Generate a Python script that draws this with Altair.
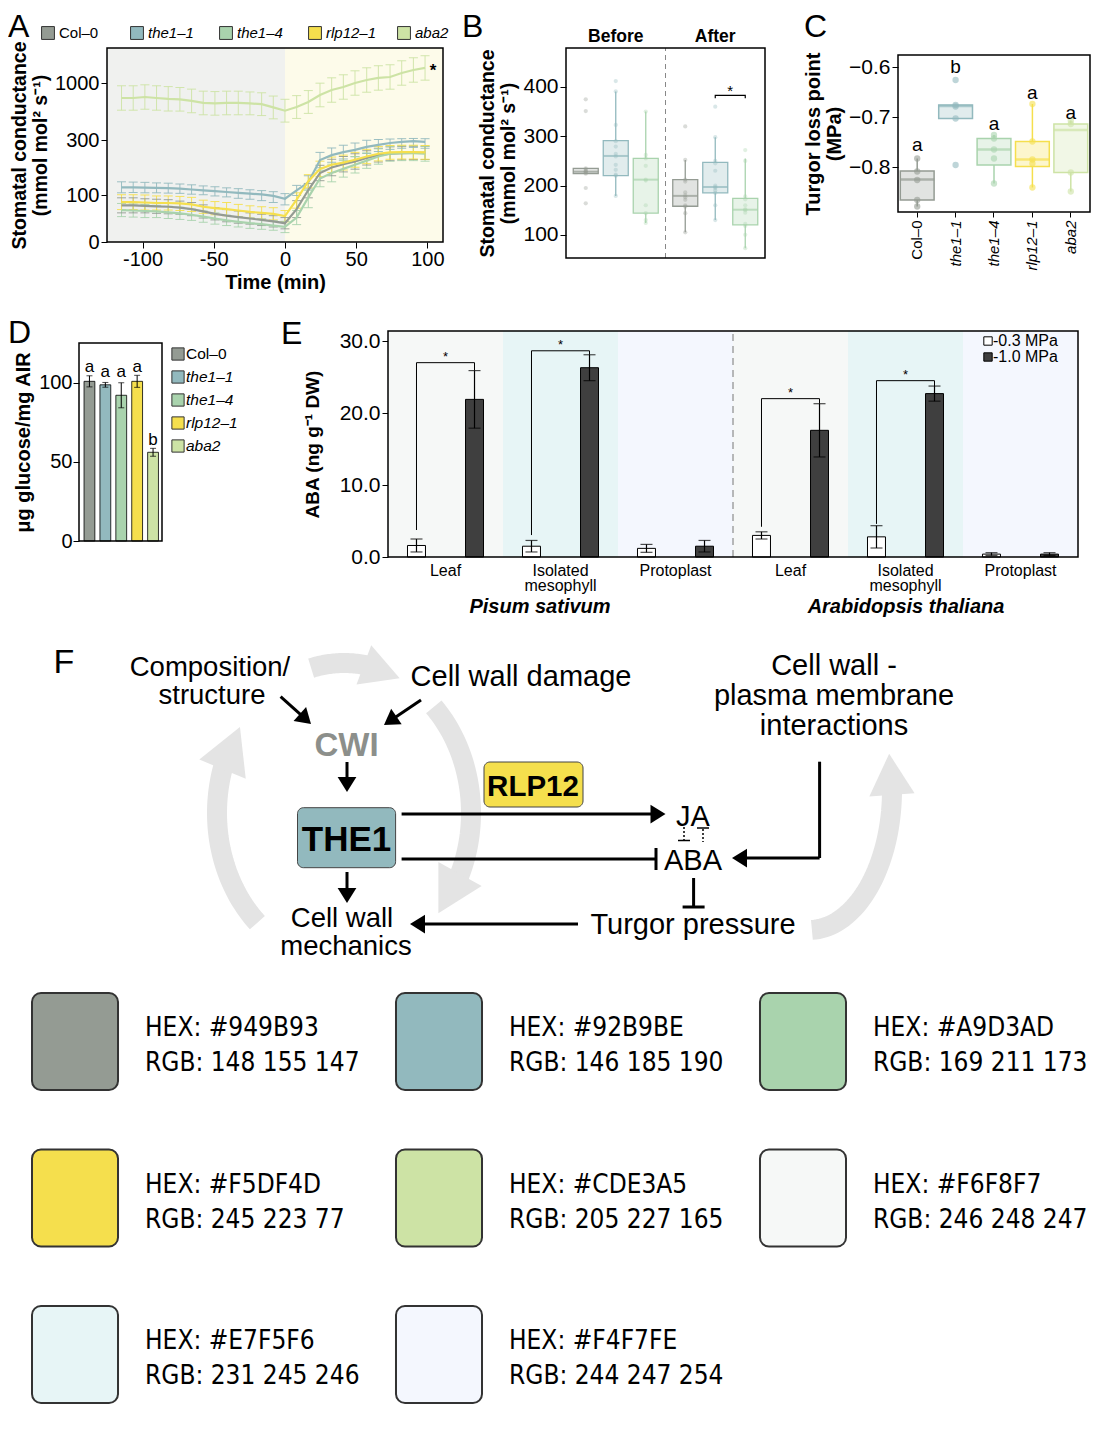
import math
import altair as alt
import pandas as pd

# ---------------- page geometry (reference pixel -> chart pixel) ----------------
OX, OY = 8, 8
W, H = 1083, 1410
def px(v): return v - OX
def py(v): return v - OY

FONT = "Liberation Sans"
PAL_FONT = "DejaVu Sans Condensed, DejaVu Sans"
AX = dict(grid=False, domain=False, tickColor="black", labelColor="black", titleColor="black",
          labelFont=FONT, titleFont=FONT)

# ---------------- genotypes ----------------
genotypes = ["Col-0", "the1-1", "the1-4", "rlp12-1", "aba2"]
geno_labels = ["Col–0", "the1–1", "the1–4", "rlp12–1", "aba2"]
geno_colors = ["#949B93", "#92B9BE", "#A9D3AD", "#F5DF4D", "#CDE3A5"]
COLOR = dict(zip(genotypes, geno_colors))

# ---------------- Panel A data ----------------
a_times = [-114.8, -106.6, -98.4, -90.2, -82.0, -73.8, -65.6, -57.4, -49.2, -41.0, -32.8, -24.6, -16.4, -8.2, 0.0,
           8.2, 16.4, 24.6, 32.8, 41.0, 49.2, 57.4, 65.6, 73.8, 82.0, 90.2, 98.4]
a_col0 = [78, 78, 77, 76, 75, 73, 70, 65, 60, 56, 53, 50, 47, 44, 40, 70, 118, 180, 200, 212, 222, 235, 245, 250, 252, 253, 253]
a_the1_1 = [128, 128, 127, 126, 125, 123, 120, 117, 114, 111, 108, 105, 102, 98, 92, 117, 146, 227, 245, 256, 264, 275, 282, 289, 293, 296, 293]
a_the1_4 = [68, 67, 66, 65, 63, 61, 58, 54, 50, 46, 43, 40, 38, 35, 32, 52, 95, 160, 180, 195, 210, 225, 240, 250, 252, 252, 250]
a_rlp12 = [85, 85, 84, 83, 83, 82, 80, 75, 72, 70, 67, 64, 62, 60, 55, 90, 150, 195, 210, 218, 228, 240, 250, 255, 256, 256, 255]
a_aba2 = [816, 816, 828, 816, 806, 800, 780, 755, 750, 755, 755, 750, 740, 700, 660, 705, 767, 853, 914, 951, 1000, 1037, 1062, 1074, 1123, 1160, 1185]
a_col0_se = [16, 16, 15, 15, 15, 14, 14, 14, 13, 13, 13, 12, 12, 12, 12, 18, 24, 28, 30, 28, 28, 26, 25, 25, 24, 24, 24]
a_the1_1_se = [20, 19, 19, 18, 18, 17, 17, 16, 16, 15, 15, 14, 14, 14, 13, 18, 24, 28, 26, 25, 25, 24, 24, 23, 23, 23, 23]
a_the1_4_se = [14, 14, 14, 13, 13, 13, 12, 12, 12, 11, 11, 11, 11, 10, 12, 15, 22, 30, 32, 30, 30, 28, 28, 27, 27, 27, 27]
a_rlp12_se = [16, 16, 16, 15, 15, 15, 15, 14, 14, 14, 13, 13, 13, 13, 12, 18, 24, 28, 28, 27, 27, 26, 26, 25, 25, 25, 25]
a_aba2_se = [150, 150, 150, 150, 150, 145, 145, 145, 145, 145, 145, 140, 140, 140, 140, 140, 140, 145, 150, 150, 150, 150, 150, 150, 150, 150, 150]

# ---------------- Panel B data ----------------
b_phases = ["Before", "After"]
b_genos = ["Col-0", "the1-1", "the1-4"]
b_group_phase = ["Before", "Before", "Before", "After", "After", "After"]
b_group_geno = ["Col-0", "the1-1", "the1-4", "Col-0", "the1-1", "the1-4"]
b_lo = [224, 179, 124, 105, 130, 73]
b_q1 = [224, 220, 144, 158, 185, 120]
b_med = [228, 260, 212, 179, 197, 151]
b_q3 = [235, 291, 255, 212, 247, 174]
b_hi = [236, 391, 350, 252, 298, 255]
b_pts = [[375, 351, 235, 232, 229, 228, 226, 224, 195, 164],
         [412, 391, 323, 290, 279, 264, 259, 242, 232, 222, 220, 179],
         [350, 262, 255, 240, 212, 210, 160, 144, 130, 124],
         [320, 252, 212, 208, 186, 180, 176, 171, 160, 157, 144, 105],
         [360, 298, 250, 245, 230, 200, 197, 195, 190, 185, 160, 130],
         [272, 250, 178, 172, 160, 152, 150, 145, 122, 118, 100, 73]]
b_bracket_y = [377, 383, 383, 377]
b_star_y = 392

# ---------------- Panel C data ----------------
c_lo = [-0.879, -0.703, -0.833, -0.841, -0.849]
c_q1 = [-0.866, -0.703, -0.796, -0.799, -0.811]
c_med = [-0.825, -0.678, -0.765, -0.785, -0.726]
c_q3 = [-0.808, -0.676, -0.743, -0.749, -0.714]
c_hi = [-0.783, -0.676, -0.736, -0.674, -0.707]
c_pts = [[-0.783, -0.809, -0.826, -0.866, -0.879],
         [-0.626, -0.676, -0.679, -0.703, -0.796],
         [-0.736, -0.743, -0.765, -0.783, -0.833],
         [-0.674, -0.749, -0.785, -0.793, -0.841],
         [-0.707, -0.714, -0.811, -0.849]]
c_letters = ["a", "b", "a", "a", "a"]
c_letter_y = [-0.756, -0.600, -0.713, -0.651, -0.691]

# ---------------- Panel D data ----------------
d_mean = [100.8, 98.6, 92.0, 100.8, 56.0]
d_err = [3.5, 1.5, 7.9, 3.8, 2.5]
d_letters = ["a", "a", "a", "a", "b"]
d_letter_y = [110, 107, 107, 110, 64]

# ---------------- Panel E data ----------------
e_species = ["Pisum sativum"] * 3 + ["Arabidopsis thaliana"] * 3
e_tissue = ["Leaf", "Isolated mesophyll", "Protoplast"] * 2
e_bg = ["#F6F8F7", "#E7F5F6", "#F4F7FE"] * 2
pressures = ["-0.3 MPa", "-1.0 MPa"]
pressure_fill = ["#FFFFFF", "#3F3F3F"]
e_low_mean = [1.6, 1.5, 1.2, 3.0, 2.8, 0.4]
e_low_err = [0.9, 0.8, 0.55, 0.5, 1.55, 0.2]
e_high_mean = [21.9, 26.3, 1.5, 17.6, 22.7, 0.4]
e_high_err = [4.0, 1.8, 0.8, 3.7, 1.05, 0.2]
e_sig_index = [0, 1, 3, 4]
e_br_left = [3.75, 3.05, 4.2, 4.6]
e_br_top = [27.0, 28.65, 22.0, 24.5]

# ---------------- palette ----------------
palette_hex = ["#949B93", "#92B9BE", "#A9D3AD", "#F5DF4D", "#CDE3A5", "#F6F8F7", "#E7F5F6", "#F4F7FE"]
palette_rgb = ["148 155 147", "146 185 190", "169 211 173", "245 223  77", "205 227 165",
               "246 248 247", "231 245 246", "244 247 254"]

layers = []
NONE_C = alt.Color("col:N", scale=None)

def X(f, s, **k): return alt.X(f, scale=s, axis=None, **k)
def Y(f, s, **k): return alt.Y(f, scale=s, axis=None, **k)
def XP(f): return alt.X(f, scale=None, axis=None)
def YP(f): return alt.Y(f, scale=None, axis=None)

# =============================== PANEL A ===============================
rows = []
for g, means, ses in zip(genotypes, [a_col0, a_the1_1, a_the1_4, a_rlp12, a_aba2],
                         [a_col0_se, a_the1_1_se, a_the1_4_se, a_rlp12_se, a_aba2_se]):
    for t, m, s in zip(a_times, means, ses):
        rows.append(dict(geno=g, col=COLOR[g], t=t, m=m, lo=m - s, hi=m + s))
dA = pd.DataFrame(rows)
sxA = alt.Scale(domain=[-125, 111], range=[px(107), px(443)], nice=False, zero=False)
syA = alt.Scale(domain=[0, 100, 300, 1430], range=[py(242), py(195), py(140), py(48)], nice=False, zero=False)
bgA = pd.DataFrame({"x0": [-125, 0], "x1": [0, 111], "y0": [0, 0], "y1": [1430, 1430], "col": ["#F0F1EF", "#FDFBEA"]})
layers.append(alt.Chart(bgA).mark_rect().encode(
    x=alt.X("x0:Q", scale=sxA, axis=alt.Axis(orient="bottom", offset=py(242) - H, values=[-100, -50, 0, 50, 100],
            labelExpr="replace(format(datum.value, 'd'), '−', '-')", title="Time (min)", labelFontSize=20,
            titleFontSize=20, titleFontWeight="bold", tickSize=6, labelPadding=1, titlePadding=3,
            labelFlush=False, **AX)),
    x2="x1:Q",
    y=alt.Y("y0:Q", scale=syA, axis=alt.Axis(orient="left", offset=-px(107), values=[0, 100, 300, 1000], format="d",
            title=["Stomatal conductance", "(mmol mol² s⁻¹)"], labelFontSize=20, titleFontSize=19.5,
            titleFontWeight="bold", tickSize=6, labelPadding=2, titlePadding=4, titleLineHeight=21, **AX)),
    y2="y1:Q", color=NONE_C))
layers.append(alt.Chart(dA).mark_rule(strokeWidth=1, opacity=0.9).encode(
    x=X("t:Q", sxA), y=Y("lo:Q", syA), y2="hi:Q", color=NONE_C))
for f in ["lo", "hi"]:
    layers.append(alt.Chart(dA).mark_tick(orient="horizontal", size=9, thickness=1, opacity=0.9).encode(
        x=X("t:Q", sxA), y=Y(f + ":Q", syA), color=NONE_C))
layers.append(alt.Chart(dA).mark_line(strokeWidth=2.2).encode(
    x=X("t:Q", sxA), y=Y("m:Q", syA), color=NONE_C, detail="geno:N"))
layers.append(alt.Chart(pd.DataFrame({"t": [104], "v": [1185], "s": ["*"]})).mark_text(
    fontSize=17, fontWeight="bold", baseline="middle", dy=3).encode(x=X("t:Q", sxA), y=Y("v:Q", syA), text="s:N"))
# legend A
legA = pd.DataFrame({"geno": genotypes, "label": geno_labels, "col": geno_colors})
sLegA = alt.Scale(type="point", domain=genotypes, range=[px(48), px(404)], padding=0)
layers.append(alt.Chart(legA).mark_square(size=165, stroke="#333333", strokeWidth=1, opacity=1).encode(
    x=X("geno:N", sLegA), y=alt.value(py(33)), color=NONE_C))
layers.append(alt.Chart(legA).transform_filter("datum.geno == 'Col-0'").mark_text(
    align="left", baseline="middle", dx=11, fontSize=15).encode(x=X("geno:N", sLegA), y=alt.value(py(33)), text="label:N"))
layers.append(alt.Chart(legA).transform_filter("datum.geno != 'Col-0'").mark_text(
    align="left", baseline="middle", dx=11, fontSize=15, fontStyle="italic").encode(
    x=X("geno:N", sLegA), y=alt.value(py(33)), text="label:N"))

# =============================== PANEL B ===============================
dBs = pd.DataFrame({"phase": b_group_phase, "geno": b_group_geno, "lo": b_lo, "q1": b_q1, "med": b_med,
                    "q3": b_q3, "hi": b_hi})
dBs["col"] = dBs["geno"].map(COLOR)
rows = []
for ph, g, pts in zip(b_group_phase, b_group_geno, b_pts):
    for v in pts:
        rows.append(dict(phase=ph, geno=g, v=v, col=COLOR[g]))
dBp = pd.DataFrame(rows)
sxB = alt.Scale(type="band", domain=b_phases, range=[px(566), px(765)], paddingInner=0, paddingOuter=0)
soB = alt.Scale(type="band", domain=b_genos, paddingInner=1 / 6, paddingOuter=0.2417)
syB = alt.Scale(domain=[53, 479], range=[py(258), py(48)], nice=False, zero=False)
layers.append(alt.Chart(pd.DataFrame({"phase": ["After"], "y0": [53], "y1": [479]})).mark_rule(
    strokeDash=[5, 4], color="#888888", strokeWidth=1).encode(
    x=alt.X("phase:N", scale=sxB, axis=None, bandPosition=0), y=Y("y0:Q", syB), y2="y1:Q"))
layers.append(alt.Chart(dBs).mark_rule(strokeWidth=1.3).encode(
    x=X("phase:N", sxB), xOffset=alt.XOffset("geno:N", scale=soB), y=Y("lo:Q", syB), y2="q1:Q", color=NONE_C))
layers.append(alt.Chart(dBs).mark_rule(strokeWidth=1.3).encode(
    x=X("phase:N", sxB), xOffset=alt.XOffset("geno:N", scale=soB), y=Y("q3:Q", syB), y2="hi:Q", color=NONE_C))
layers.append(alt.Chart(dBs).mark_bar(fillOpacity=0.28, strokeWidth=1.3).encode(
    x=alt.X("phase:N", scale=sxB, axis=alt.Axis(orient="top", offset=-py(48), title=None, ticks=False,
            labelFontSize=17.5, labelFontWeight="bold", labelPadding=3, labelAngle=0, **AX)),
    xOffset=alt.XOffset("geno:N", scale=soB),
    y=alt.Y("q1:Q", scale=syB, axis=alt.Axis(orient="left", offset=-px(566), values=[100, 200, 300, 400],
            title=["Stomatal conductance", "(mmol mol² s⁻¹)"], labelFontSize=21, titleFontSize=19.5,
            titleFontWeight="bold", tickSize=6, labelPadding=2, titlePadding=4, titleLineHeight=21, **AX)),
    y2="q3:Q", fill=NONE_C, stroke=alt.Stroke("col:N", scale=None)))
layers.append(alt.Chart(dBs).mark_tick(orient="horizontal", size=25, thickness=2).encode(
    x=X("phase:N", sxB), xOffset=alt.XOffset("geno:N", scale=soB), y=Y("med:Q", syB), color=NONE_C))
layers.append(alt.Chart(dBp).mark_circle(size=18, opacity=0.35).encode(
    x=X("phase:N", sxB), xOffset=alt.XOffset("geno:N", scale=soB), y=Y("v:Q", syB), color=NONE_C))
layers.append(alt.Chart(pd.DataFrame({"phase": ["After"] * 4, "geno": ["the1-1", "the1-1", "the1-4", "the1-4"],
                                      "y": b_bracket_y, "o": [0, 1, 2, 3]})).mark_line(
    color="black", strokeWidth=1.2).encode(
    x=X("phase:N", sxB), xOffset=alt.XOffset("geno:N", scale=soB), y=Y("y:Q", syB), order="o:Q"))
layers.append(alt.Chart(pd.DataFrame({"phase": ["After"], "geno": ["the1-1"], "y": [b_star_y], "s": ["*"]})).mark_text(
    fontSize=15, dx=15, baseline="middle").encode(
    x=X("phase:N", sxB), xOffset=alt.XOffset("geno:N", scale=soB), y=Y("y:Q", syB), text="s:N"))

# =============================== PANEL C ===============================
dCs = pd.DataFrame({"geno": genotypes, "lo": c_lo, "q1": c_q1, "med": c_med, "q3": c_q3, "hi": c_hi,
                    "col": geno_colors, "let": c_letters, "ly": c_letter_y})
rows = []
for g, pts in zip(genotypes, c_pts):
    for v in pts:
        rows.append(dict(geno=g, v=v, col=COLOR[g]))
dCp = pd.DataFrame(rows)
sxC = alt.Scale(type="band", domain=genotypes, range=[px(898), px(1090)], paddingInner=0.12, paddingOuter=0.06)
syC = alt.Scale(domain=[-0.89, -0.576], range=[py(212), py(55)], nice=False, zero=False)
layers.append(alt.Chart(dCs).mark_rule(strokeWidth=1.5).encode(x=X("geno:N", sxC), y=Y("lo:Q", syC), y2="q1:Q", color=NONE_C))
layers.append(alt.Chart(dCs).mark_rule(strokeWidth=1.5).encode(x=X("geno:N", sxC), y=Y("q3:Q", syC), y2="hi:Q", color=NONE_C))
layers.append(alt.Chart(dCs).mark_bar(fillOpacity=0.28, strokeWidth=1.5).encode(
    x=alt.X("geno:N", scale=sxC, axis=alt.Axis(orient="bottom", offset=py(212) - H, title=None, labelAngle=270,
            labelExpr="replace(datum.value, '-', '–')", labelFontSize=15, tickSize=5, labelPadding=3,
            labelFontStyle={"condition": {"test": "datum.value == 'Col-0'", "value": "normal"}, "value": "italic"},
            **AX)),
    y=alt.Y("q1:Q", scale=syC, axis=alt.Axis(orient="left", offset=-px(898), values=[-0.8, -0.7, -0.6],
            labelExpr="replace(format(datum.value, '.1f'), '-', '−')", title=["Turgor loss point", "(MPa)"],
            labelFontSize=21, titleFontSize=20, titleFontWeight="bold", tickSize=6, labelPadding=2,
            titlePadding=4, titleLineHeight=21, **AX)),
    y2="q3:Q", fill=NONE_C, stroke=alt.Stroke("col:N", scale=None)))
layers.append(alt.Chart(dCs).mark_tick(orient="horizontal", size=34, thickness=2.5).encode(
    x=X("geno:N", sxC), y=Y("med:Q", syC), color=NONE_C))
layers.append(alt.Chart(dCp).mark_circle(size=40, opacity=0.6).encode(x=X("geno:N", sxC), y=Y("v:Q", syC), color=NONE_C))
layers.append(alt.Chart(dCs).mark_text(fontSize=19, baseline="middle").encode(
    x=X("geno:N", sxC), y=Y("ly:Q", syC), text="let:N"))

# =============================== PANEL D ===============================
dD = pd.DataFrame({"geno": genotypes, "m": d_mean, "e": d_err, "col": geno_colors, "let": d_letters, "ly": d_letter_y})
dD["lo"] = dD["m"] - dD["e"]
dD["hi"] = dD["m"] + dD["e"]
sxD = alt.Scale(type="band", domain=genotypes, range=[px(81.5), px(161)], paddingInner=0.32, paddingOuter=0.16)
syD = alt.Scale(domain=[0, 125], range=[py(541), py(343)], nice=False, zero=False)
layers.append(alt.Chart(dD).mark_bar(stroke="black", strokeWidth=0.8).encode(
    x=X("geno:N", sxD),
    y=alt.Y("m:Q", scale=syD, axis=alt.Axis(orient="left", offset=-px(79), values=[0, 50, 100],
            title="μg glucose/mg AIR", labelFontSize=20, titleFontSize=20, titleFontWeight="bold", tickSize=6,
            labelPadding=1, titlePadding=5, **AX)),
    color=NONE_C))
layers.append(alt.Chart(dD).mark_rule(strokeWidth=1).encode(x=X("geno:N", sxD), y=Y("lo:Q", syD), y2="hi:Q"))
for f in ["lo", "hi"]:
    layers.append(alt.Chart(dD).mark_tick(orient="horizontal", size=6, thickness=1, color="black").encode(
        x=X("geno:N", sxD), y=Y(f + ":Q", syD)))
layers.append(alt.Chart(dD).mark_text(fontSize=17, baseline="middle").encode(
    x=X("geno:N", sxD), y=Y("ly:Q", syD), text="let:N"))
sLegD = alt.Scale(type="point", domain=genotypes, range=[py(354), py(446)], padding=0)
layers.append(alt.Chart(legA).mark_square(size=150, stroke="#333333", strokeWidth=1, opacity=1).encode(
    y=Y("geno:N", sLegD), x=alt.value(px(178)), color=NONE_C))
layers.append(alt.Chart(legA).transform_filter("datum.geno == 'Col-0'").mark_text(
    align="left", baseline="middle", dx=8, fontSize=15.5).encode(y=Y("geno:N", sLegD), x=alt.value(px(178)), text="label:N"))
layers.append(alt.Chart(legA).transform_filter("datum.geno != 'Col-0'").mark_text(
    align="left", baseline="middle", dx=8, fontSize=15.5, fontStyle="italic").encode(
    y=Y("geno:N", sLegD), x=alt.value(px(178)), text="label:N"))

# =============================== PANEL E ===============================
e_keys = [s + "|" + t for s, t in zip(e_species, e_tissue)]
dEbg = pd.DataFrame({"key": e_keys, "col": e_bg, "y0": [0] * 6, "y1": [31.4] * 6})
rows = []
for i, k in enumerate(e_keys):
    rows.append(dict(key=k, p=pressures[0], m=e_low_mean[i], lo=e_low_mean[i] - e_low_err[i],
                     hi=e_low_mean[i] + e_low_err[i], col=pressure_fill[0]))
    rows.append(dict(key=k, p=pressures[1], m=e_high_mean[i], lo=e_high_mean[i] - e_high_err[i],
                     hi=e_high_mean[i] + e_high_err[i], col=pressure_fill[1]))
dE = pd.DataFrame(rows)
rows = []
for j, i in enumerate(e_sig_index):
    k = e_keys[i]
    yr = e_high_mean[i] + e_high_err[i]
    for o, (p, y) in enumerate([(pressures[0], e_br_left[j]), (pressures[0], e_br_top[j]),
                                (pressures[1], e_br_top[j]), (pressures[1], yr)]):
        rows.append(dict(key=k, p=p, y=y, o=o))
dEbr = pd.DataFrame(rows)
dEstar = pd.DataFrame({"key": [e_keys[i] for i in e_sig_index], "y": [t + 0.85 for t in e_br_top], "s": ["*"] * 4})
sxE = alt.Scale(type="band", domain=e_keys, range=[px(388), px(1078)], paddingInner=0, paddingOuter=0)
soE = alt.Scale(type="band", domain=pressures, paddingInner=0.69, paddingOuter=0.336)
syE = alt.Scale(domain=[0, 31.4], range=[py(557), py(331)], nice=False, zero=False)
layers.append(alt.Chart(dEbg).mark_rect().encode(
    x=alt.X("key:N", scale=sxE, axis=alt.Axis(orient="bottom", offset=py(557) - H, title=None, ticks=False,
            labelAngle=0, labelFontSize=16, labelPadding=5, labelLineHeight=15,
            labelExpr="indexof(datum.value, 'Isolated') >= 0 ? ['Isolated', 'mesophyll'] : split(datum.value, '|')[1]",
            **AX)),
    y=alt.Y("y0:Q", scale=syE, axis=alt.Axis(orient="left", offset=-px(388), values=[0, 10, 20, 30], format=".1f",
            title="ABA (ng g⁻¹ DW)", labelFontSize=21, titleFontSize=19, titleFontWeight="bold", tickSize=6,
            labelPadding=2, titlePadding=17, **AX)),
    y2="y1:Q", color=NONE_C))
layers.append(alt.Chart(pd.DataFrame({"key": [e_keys[3]], "y0": [0], "y1": [31.4]})).mark_rule(
    strokeDash=[7, 5], color="#777777", strokeWidth=1).encode(
    x=alt.X("key:N", scale=sxE, axis=None, bandPosition=0), y=Y("y0:Q", syE), y2="y1:Q"))
layers.append(alt.Chart(dE).mark_bar(stroke="black", strokeWidth=1).encode(
    x=X("key:N", sxE), xOffset=alt.XOffset("p:N", scale=soE), y=Y("m:Q", syE), color=NONE_C))
layers.append(alt.Chart(dE).mark_rule(strokeWidth=1.2, color="black").encode(
    x=X("key:N", sxE), xOffset=alt.XOffset("p:N", scale=soE), y=Y("lo:Q", syE), y2="hi:Q"))
for f in ["lo", "hi"]:
    layers.append(alt.Chart(dE).mark_tick(orient="horizontal", size=12, thickness=1.2, color="black").encode(
        x=X("key:N", sxE), xOffset=alt.XOffset("p:N", scale=soE), y=Y(f + ":Q", syE)))
layers.append(alt.Chart(dEbr).mark_line(color="black", strokeWidth=1).encode(
    x=X("key:N", sxE), xOffset=alt.XOffset("p:N", scale=soE), y=Y("y:Q", syE), detail="key:N", order="o:Q"))
layers.append(alt.Chart(dEstar).mark_text(fontSize=13, baseline="middle").encode(
    x=X("key:N", sxE), y=Y("y:Q", syE), text="s:N"))
legE = pd.DataFrame({"p": pressures, "col": pressure_fill})
sLegE = alt.Scale(type="point", domain=pressures, range=[py(341), py(357)], padding=0)
layers.append(alt.Chart(legE).mark_square(size=70, stroke="black", strokeWidth=1, opacity=1).encode(
    y=Y("p:N", sLegE), x=alt.value(px(988)), color=NONE_C))
layers.append(alt.Chart(legE).mark_text(align="left", baseline="middle", dx=5, fontSize=16).encode(
    y=Y("p:N", sLegE), x=alt.value(px(988)), text="p:N"))

# =============================== frames & annotations ===============================
frames = pd.DataFrame({"x0": [px(107), px(566), px(898), px(79), px(388)],
                       "x1": [px(443), px(765), px(1090), px(162), px(1078)],
                       "y0": [py(48), py(48), py(55), py(343), py(331)],
                       "y1": [py(242), py(258), py(212), py(541), py(557)]})
layers.append(alt.Chart(frames).mark_rect(fillOpacity=0, stroke="black", strokeWidth=1.5).encode(
    x=XP("x0:Q"), x2="x1:Q", y=YP("y0:Q"), y2="y1:Q"))
letters = pd.DataFrame({"s": ["A", "B", "C", "D", "E"], "x": [px(8), px(462), px(804), px(8), px(281)],
                        "y": [py(37), py(37), py(37), py(343), py(344)]})
layers.append(alt.Chart(letters).mark_text(fontSize=32, align="left", baseline="alphabetic").encode(
    x=XP("x:Q"), y=YP("y:Q"), text="s:N"))
species = pd.DataFrame({"s": ["Pisum sativum", "Arabidopsis thaliana"], "x": [px(540), px(906)], "y": [py(607), py(607)]})
layers.append(alt.Chart(species).mark_text(fontSize=20, fontWeight="bold", fontStyle="italic", baseline="middle").encode(
    x=XP("x:Q"), y=YP("y:Q"), text="s:N"))

# =============================== PANEL F (diagram) ===============================
GREY = "#E4E4E4"
def ell(cx, cy, a, b, phi):
    r = math.radians(phi)
    return (cx + a * math.sin(r), cy - b * math.cos(r))

# (cx, cy, a, b, body start, body end, head tip)
arc_specs = [(344, 813, 127, 150, -15, 11, 26), (344, 813, 127, 150, 45, 116, 132),
             (344, 813, 127, 150, 223, 289, 305), (809, 790, 83, 140, 178, 90, 75)]
rows, heads = [], []
for k, (cx, cy, a, b, p0, p1, pt) in enumerate(arc_specs):
    n = 40
    for i in range(n + 1):
        x, y = ell(cx, cy, a, b, p0 + (p1 - p0) * i / n)
        rows.append(dict(arc=k, i=i, x=px(x), y=py(y)))
    pb = p1 - 2 if p1 > p0 else p1 + 2
    bx, by = ell(cx, cy, a, b, pb)
    tx, ty = ell(cx, cy, a, b, pt)
    d = math.hypot(tx - bx, ty - by)
    heads.append(dict(x=px((bx + tx) / 2), y=py((by + ty) / 2), ang=math.degrees(math.atan2(tx - bx, -(ty - by))) % 360, sz=d * d))
layers.append(alt.Chart(pd.DataFrame(rows)).mark_line(strokeWidth=20, color=GREY, strokeCap="butt").encode(
    x=XP("x:Q"), y=YP("y:Q"), detail="arc:N", order="i:Q"))
layers.append(alt.Chart(pd.DataFrame(heads)).mark_point(shape="M0,-1L1.1,1L-1.1,1Z", filled=True, color=GREY, opacity=1, strokeWidth=0).encode(
    x=XP("x:Q"), y=YP("y:Q"), angle=alt.Angle("ang:Q", scale=None), size=alt.Size("sz:Q", scale=None)))

boxes = pd.DataFrame({"x0": [px(297.5), px(484)], "x1": [px(395.6), px(583)], "y0": [py(807.7), py(762)],
                      "y1": [py(867.7), py(807)], "col": ["#92B9BE", "#F5DF4D"]})
layers.append(alt.Chart(boxes).mark_rect(cornerRadius=6, stroke="#444444", strokeWidth=1).encode(
    x=XP("x0:Q"), x2="x1:Q", y=YP("y0:Q"), y2="y1:Q", color=NONE_C))

# black connectors: (x1, y1, x2, y2, head)  head: 'arrow', 'bar', or ''
links = [(280.6, 696.7, 311, 724, "arrow"), (421, 700, 384, 725, "arrow"), (347, 762, 347, 792, "arrow"),
         (347, 872, 347, 903, "arrow"), (401.6, 814, 665.5, 814, "arrow"), (401.6, 859, 656, 859, "bar"),
         (819.6, 761.7, 819.6, 858, ""), (819.6, 858, 732, 858, "arrow"), (693.6, 878, 693.6, 907, "bar"),
         (578, 924, 410, 924, "arrow")]
seg, ahead = [], []
AL = 15
for x1, y1, x2, y2, h in links:
    d = math.hypot(x2 - x1, y2 - y1)
    ux, uy = (x2 - x1) / d, (y2 - y1) / d
    if h == "arrow":
        seg.append(dict(x=px(x1), y=py(y1), x2=px(x2 - ux * AL * 0.8), y2=py(y2 - uy * AL * 0.8)))
        ahead.append(dict(x=px(x2 - ux * AL / 2), y=py(y2 - uy * AL / 2),
                          ang=math.degrees(math.atan2(ux, -uy)) % 360, sz=AL * AL))
    else:
        seg.append(dict(x=px(x1), y=py(y1), x2=px(x2), y2=py(y2)))
        if h == "bar":
            seg.append(dict(x=px(x2 - uy * 11), y=py(y2 + ux * 11), x2=px(x2 + uy * 11), y2=py(y2 - ux * 11)))
layers.append(alt.Chart(pd.DataFrame(seg)).mark_rule(strokeWidth=3, color="black").encode(
    x=XP("x:Q"), y=YP("y:Q"), x2="x2:Q", y2="y2:Q"))
layers.append(alt.Chart(pd.DataFrame(ahead)).mark_point(shape="M0,-1L1.25,1L-1.25,1Z", filled=True, color="black", opacity=1, strokeWidth=0).encode(
    x=XP("x:Q"), y=YP("y:Q"), angle=alt.Angle("ang:Q", scale=None), size=alt.Size("sz:Q", scale=None)))
dash = pd.DataFrame({"x": [px(684), px(703)], "y": [py(827), py(829)], "x2": [px(684), px(703)], "y2": [py(840), py(842)]})
layers.append(alt.Chart(dash).mark_rule(strokeWidth=1.5, color="black", strokeDash=[2, 2]).encode(
    x=XP("x:Q"), y=YP("y:Q"), x2="x2:Q", y2="y2:Q"))
dbar = pd.DataFrame({"x": [px(678), px(697)], "y": [py(840.5), py(828)], "x2": [px(690), px(709)], "y2": [py(840.5), py(828)]})
layers.append(alt.Chart(dbar).mark_rule(strokeWidth=1.5, color="black").encode(
    x=XP("x:Q"), y=YP("y:Q"), x2="x2:Q", y2="y2:Q"))

f_text = ["F", "Composition/", "structure", "Cell wall damage", "Cell wall -", "plasma membrane", "interactions",
          "JA", "ABA", "Turgor pressure", "Cell wall", "mechanics"]
f_x = [64, 210, 212, 521, 834, 834, 834, 693, 693, 693, 342, 346]
f_y = [663, 668, 696, 677, 666, 696, 726, 817, 861, 925, 919, 947]
f_size = [34, 27.5, 27.5, 29, 29, 29, 29, 29, 29, 29, 27.5, 27.5]
layers.append(alt.Chart(pd.DataFrame({"s": f_text, "x": [px(v) for v in f_x], "y": [py(v) for v in f_y], "fs": f_size})).mark_text(
    baseline="middle").encode(x=XP("x:Q"), y=YP("y:Q"), text="s:N", size=alt.Size("fs:Q", scale=None)))
fb_text = ["CWI", "THE1", "RLP12"]
fb_x = [346.5, 346.5, 533]
fb_y = [746, 840, 787]
fb_size = [33, 35, 29.5]
fb_col = ["#8C8F8B", "#000000", "#000000"]
layers.append(alt.Chart(pd.DataFrame({"s": fb_text, "x": [px(v) for v in fb_x], "y": [py(v) for v in fb_y],
                                      "fs": fb_size, "col": fb_col})).mark_text(baseline="middle", fontWeight="bold").encode(
    x=XP("x:Q"), y=YP("y:Q"), text="s:N", size=alt.Size("fs:Q", scale=None), color=NONE_C))

# =============================== palette ===============================
dP = pd.DataFrame({"hex": palette_hex, "rgb": palette_rgb})
dP["col"] = dP["hex"]
dP["c"] = [i % 3 for i in range(len(dP))]
dP["r"] = [i // 3 for i in range(len(dP))]
dP["t1"] = "HEX: " + dP["hex"]
dP["t2"] = "RGB: " + dP["rgb"]
sxP = alt.Scale(type="band", domain=[0, 1, 2], range=[px(32), px(32) + 814], paddingInner=0.7637, paddingOuter=0)
syP = alt.Scale(type="band", domain=[0, 1, 2], range=[py(993), py(993) + 410], paddingInner=0.38, paddingOuter=0)
layers.append(alt.Chart(dP).mark_rect(cornerRadius=9, stroke="#333333", strokeWidth=2).encode(
    x=X("c:O", sxP), y=Y("r:O", syP), color=NONE_C))
layers.append(alt.Chart(dP).mark_text(align="left", baseline="middle", dx=70, dy=-13.5, fontSize=26, font=PAL_FONT).encode(
    x=X("c:O", sxP), y=Y("r:O", syP), text="t1:N"))
layers.append(alt.Chart(dP).mark_text(align="left", baseline="middle", dx=70, dy=21.5, fontSize=26, font=PAL_FONT).encode(
    x=X("c:O", sxP), y=Y("r:O", syP), text="t2:N"))

chart = alt.layer(*layers).resolve_scale(x="independent", y="independent", xOffset="independent").properties(
    width=W, height=H, padding={"left": 0, "top": 0, "right": 0, "bottom": 0}
).configure(font=FONT).configure_view(stroke=None).configure_axis(grid=False)

chart.save("out.html", embed_options={"renderer": "svg", "actions": False})
